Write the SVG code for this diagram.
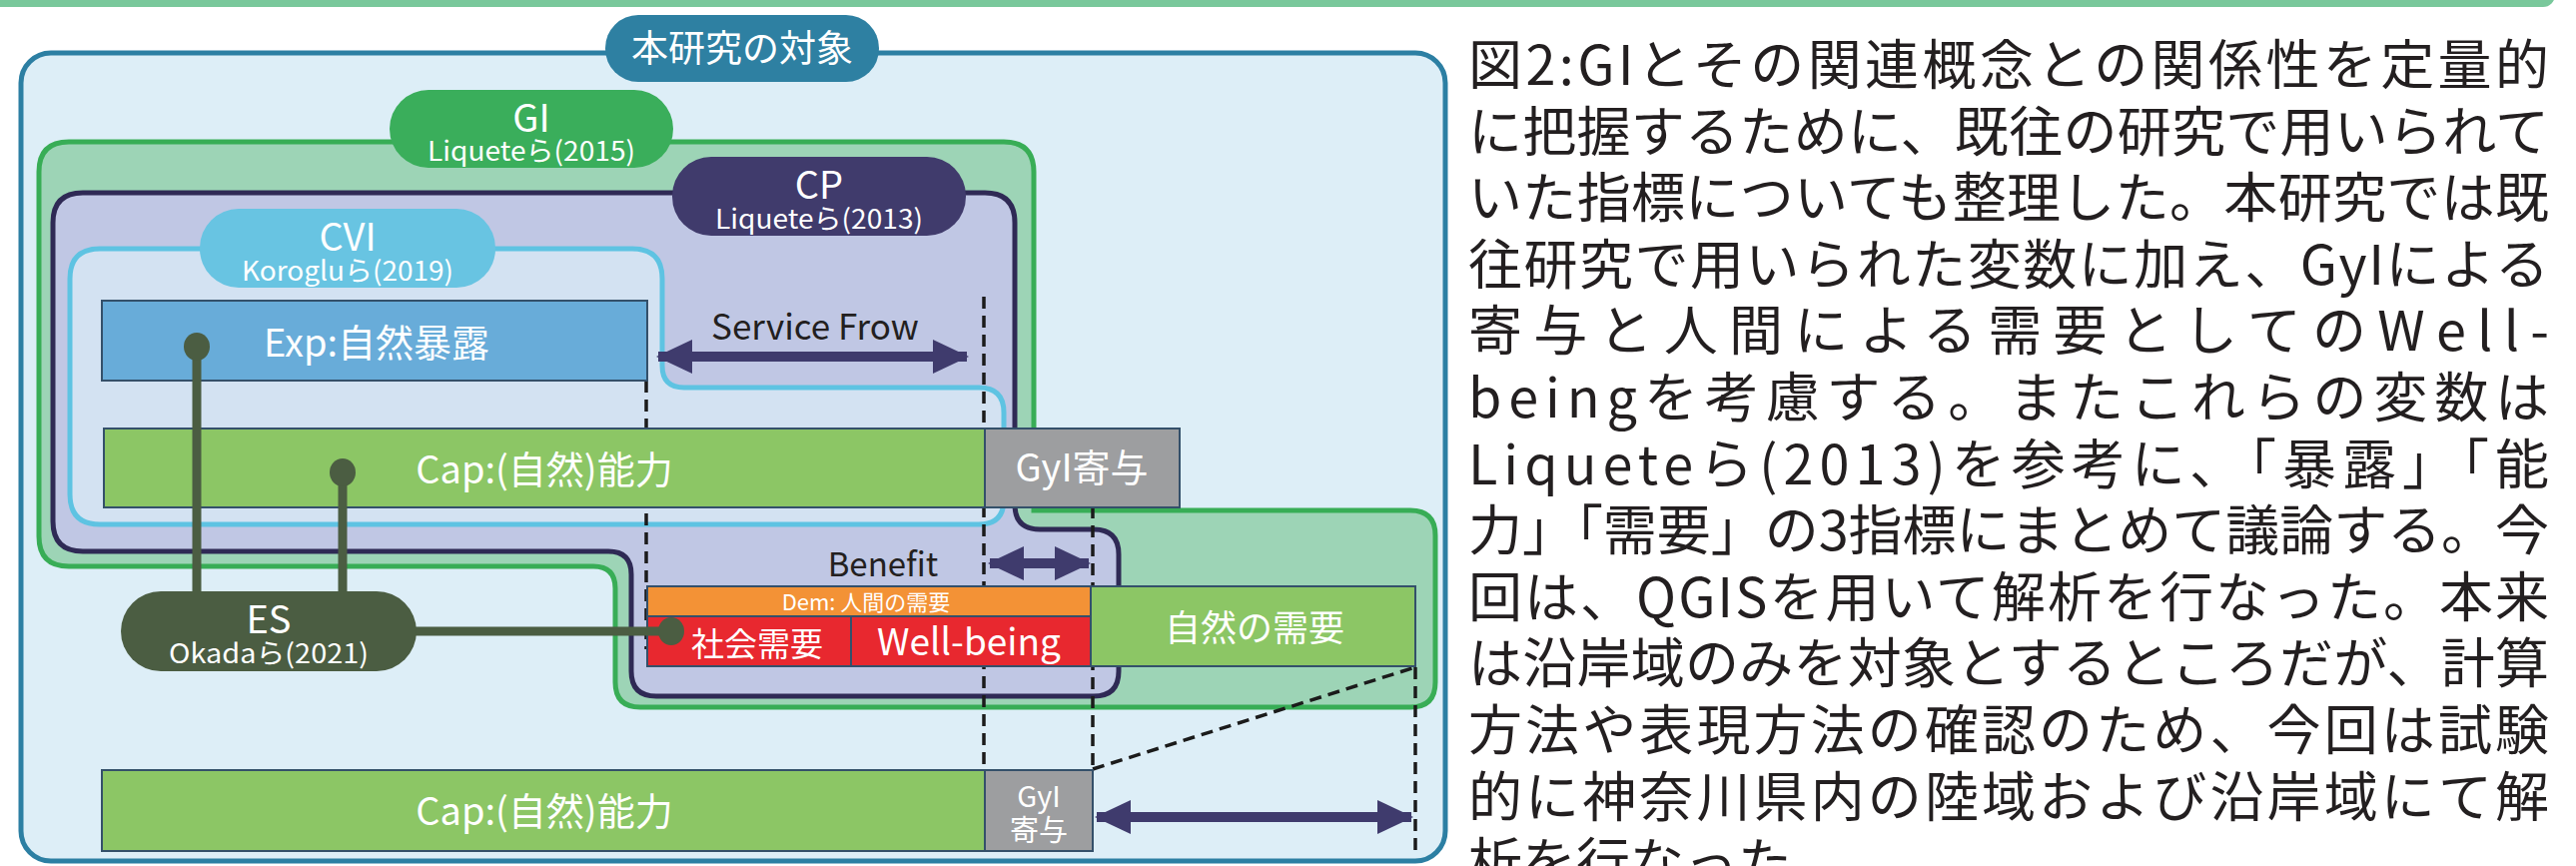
<svg xmlns="http://www.w3.org/2000/svg" width="2579" height="867" viewBox="0 0 2579 867">
<defs>
<style>
.t{font-family:"Noto Sans CJK JP","Noto Sans",sans-serif;fill:#fff;text-anchor:middle}
.dk{fill:#231f20}
.sub{font-size:27px}
.body{font-family:"Noto Sans CJK JP","Noto Sans",sans-serif;fill:#231f20;font-size:54px}
.dash{stroke:#1b1b1b;stroke-width:3.5;stroke-dasharray:12 7;fill:none}
.bar{stroke:#34506a;stroke-width:2}
.es{stroke:#4b5d42;stroke-width:9;fill:none}
.arr{stroke:#3f3b6d;stroke-width:10;marker-start:url(#ah);marker-end:url(#ah)}
</style>
<marker id="ah" viewBox="0 0 36 34" refX="34" refY="17" markerWidth="36" markerHeight="34" markerUnits="userSpaceOnUse" orient="auto-start-reverse">
<path d="M0,0 L36,17 L0,34 Z" fill="#3f3b6d"/>
</marker>
</defs>

<rect x="-20" y="-40" width="2578" height="47" rx="12" fill="#79c89b"/>

<g id="frame">
<rect x="21" y="53" width="1426" height="809" rx="30" fill="#ddeef7" stroke="#2c7fa3" stroke-width="5"/>
</g>

<g id="region-GI">
<path d="M69,142 H1005 Q1035,142 1035,172 V511 H1412 Q1437,511 1437,536 V683 Q1437,708 1412,708 H641 Q616,708 616,683 V589 Q616,567 594,567 H69 Q39,567 39,537 V172 Q39,142 69,142 Z" fill="#9dd4b6" stroke="#38ad56" stroke-width="5"/>
</g>
<g id="region-CP">
<path d="M83,193 H986 Q1016,193 1016,223 V505 Q1016,530 1041,530 H1095 Q1120,530 1120,555 V672 Q1120,697 1095,697 H657 Q632,697 632,672 V575 Q632,552 609,552 H83 Q53,552 53,522 V223 Q53,193 83,193 Z" fill="#c0c7e4" stroke="#2f2a55" stroke-width="5"/>
</g>
<g id="region-CVI">
<path d="M100,249 H633 Q663,249 663,279 V366 Q663,388 685,388 H980 Q1005,388 1005,413 V500 Q1005,525 980,525 H100 Q70,525 70,495 V279 Q70,249 100,249 Z" fill="#d3e2f2" stroke="#5ec3e2" stroke-width="5"/>
</g>

<g id="guides">
<line class="dash" x1="647" y1="381" x2="647" y2="650"/>
<line class="dash" x1="985" y1="297" x2="985" y2="772"/>
<line class="dash" x1="1094" y1="507" x2="1094" y2="770"/>
<line class="dash" x1="1417" y1="668" x2="1417" y2="852"/>
<line class="dash" x1="1094" y1="770" x2="1417" y2="668"/>
</g>

<g id="bar-exp">
<rect class="bar" x="102" y="301" width="546" height="80" fill="#68acd9"/>
<text class="t" x="377" y="357" font-size="38">Exp:自然暴露</text>
</g>
<g id="bar-cap">
<rect class="bar" x="104" y="429" width="882" height="79" fill="#8cc665"/>
<text class="t" x="545" y="484" font-size="38">Cap:(自然)能力</text>
</g>
<g id="box-gyi">
<rect class="bar" x="986" y="429" width="195" height="79" fill="#9d9ea0"/>
<text class="t" x="1083" y="482" font-size="38">GyI寄与</text>
</g>
<g id="bar-dem">
<rect class="bar" x="648" y="587" width="444" height="30" fill="#f39236"/>
<text class="t" x="867" y="611" font-size="22">Dem: 人間の需要</text>
</g>
<g id="box-social">
<rect class="bar" x="648" y="617" width="204" height="50" fill="#e8282f"/>
<text class="t" x="758" y="657" font-size="33">社会需要</text>
</g>
<g id="box-wellbeing">
<rect class="bar" x="852" y="617" width="240" height="50" fill="#e8282f"/>
<text class="t" x="970" y="656" font-size="37">Well-being</text>
</g>
<g id="box-nature-demand">
<rect class="bar" x="1092" y="587" width="325" height="80" fill="#8cc665"/>
<text class="t" x="1256" y="642" font-size="36">自然の需要</text>
</g>
<g id="bar-cap2">
<rect class="bar" x="102" y="771" width="884" height="81" fill="#8cc665"/>
<text class="t" x="545" y="826" font-size="38">Cap:(自然)能力</text>
</g>
<g id="box-gyi2">
<rect class="bar" x="986" y="771" width="108" height="81" fill="#9d9ea0"/>
<text class="t" x="1040" y="808" font-size="29">GyI</text>
<text class="t" x="1040" y="842" font-size="29">寄与</text>
</g>

<g id="connectors">
<line class="arr" x1="659" y1="357" x2="968" y2="357"/>
<line class="arr" x1="991" y1="564" x2="1090" y2="564"/>
<line class="arr" x1="1098" y1="818" x2="1413" y2="818"/>
<line class="es" x1="197" y1="347" x2="197" y2="598"/>
<line class="es" x1="343" y1="473" x2="343" y2="598"/>
<line class="es" x1="410" y1="632" x2="672" y2="632"/>
<ellipse cx="197" cy="347" rx="13" ry="14" fill="#4b5d42"/>
<ellipse cx="343" cy="473" rx="13" ry="14" fill="#4b5d42"/>
<ellipse cx="672" cy="632" rx="13" ry="14" fill="#4b5d42"/>
</g>

<g id="label-service">
<text class="t dk" x="816" y="340" font-size="35">Service Frow</text>
</g>
<g id="label-benefit">
<text class="t dk" x="884" y="577" font-size="33">Benefit</text>
</g>

<g id="node-title">
<rect x="606" y="15" width="274" height="67" rx="33" fill="#2e80a2"/>
<text class="t" x="743" y="62" font-size="37">本研究の対象</text>
</g>
<g id="node-GI">
<rect x="390" y="90" width="284" height="78" rx="39" fill="#3aae5b"/>
<text class="t" x="532" y="132" font-size="38">GI</text>
<text class="t sub" x="532" y="161" textLength="208" lengthAdjust="spacingAndGlyphs">Liqueteら(2015)</text>
</g>
<g id="node-CP">
<rect x="673" y="157" width="294" height="79" rx="39" fill="#403b6c"/>
<text class="t" x="820" y="199" font-size="38">CP</text>
<text class="t sub" x="820" y="229" textLength="208" lengthAdjust="spacingAndGlyphs">Liqueteら(2013)</text>
</g>
<g id="node-CVI">
<rect x="200" y="209" width="296" height="79" rx="39" fill="#68c4e2"/>
<text class="t" x="348" y="251" font-size="38">CVI</text>
<text class="t sub" x="348" y="281" textLength="212" lengthAdjust="spacingAndGlyphs">Korogluら(2019)</text>
</g>
<g id="node-ES">
<rect x="121" y="592" width="296" height="80" rx="40" fill="#4b5d42"/>
<text class="t" x="269" y="634" font-size="38">ES</text>
<text class="t sub" x="269" y="664" textLength="200" lengthAdjust="spacingAndGlyphs">Okadaら(2021)</text>
</g>

<g id="caption">
<text class="body" x="1470" y="85" textLength="1082" lengthAdjust="spacing">図2:GIとその関連概念との関係性を定量的</text>
<text class="body" x="1470" y="151.6" textLength="1082" lengthAdjust="spacing">に把握するために、既往の研究で用いられて</text>
<text class="body" x="1470" y="218.2" textLength="1082" lengthAdjust="spacing">いた指標についても整理した。本研究では既</text>
<text class="body" x="1470" y="284.8" textLength="1082" lengthAdjust="spacing">往研究で用いられた変数に加え、GyIによる</text>
<text class="body" x="1470" y="351.4" textLength="1082" lengthAdjust="spacing">寄与と人間による需要としてのWell-</text>
<text class="body" x="1470" y="418" textLength="1082" lengthAdjust="spacing">beingを考慮する。またこれらの変数は</text>
<text class="body" x="1470" y="484.6" textLength="1082" lengthAdjust="spacing">Liqueteら(2013)を参考に、「暴露」「能</text>
<text class="body" x="1470" y="551.2" textLength="1082" lengthAdjust="spacing">力」「需要」の3指標にまとめて議論する。今</text>
<text class="body" x="1470" y="617.8" textLength="1082" lengthAdjust="spacing">回は、QGISを用いて解析を行なった。本来</text>
<text class="body" x="1470" y="684.4" textLength="1082" lengthAdjust="spacing">は沿岸域のみを対象とするところだが、計算</text>
<text class="body" x="1470" y="751" textLength="1082" lengthAdjust="spacing">方法や表現方法の確認のため、今回は試験</text>
<text class="body" x="1470" y="817.6" textLength="1082" lengthAdjust="spacing">的に神奈川県内の陸域および沿岸域にて解</text>
<text class="body" x="1470" y="884.2">析を行なった。</text>
</g>
</svg>
